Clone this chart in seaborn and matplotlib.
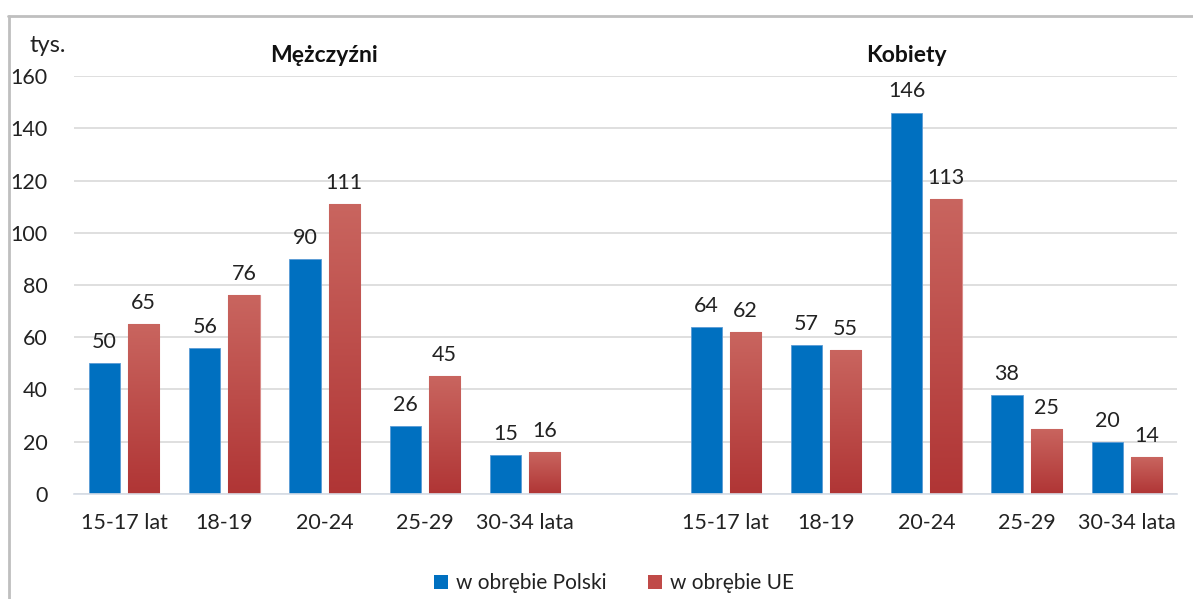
import matplotlib
matplotlib.use("Agg")
import matplotlib.pyplot as plt
import matplotlib.patches as mpatches
import matplotlib.colors as mcolors
import numpy as np
import pandas as pd
import seaborn as sns

# ---- data ----
age_groups = ["15-17 lat", "18-19", "20-24", "25-29", "30-34 lata"]
men_poland = [50, 56, 90, 26, 15]
men_eu = [65, 76, 111, 45, 16]
women_poland = [64, 57, 146, 38, 20]
women_eu = [62, 55, 113, 25, 14]
series_names = ["w obrębie Polski", "w obrębie UE"]
group_titles = ["Mężczyźni", "Kobiety"]
y_ticks = [0, 20, 40, 60, 80, 100, 120, 140, 160]

sns.set_theme(style="white")
plt.rcParams["font.family"] = ["Lato", "DejaVu Sans"]

rows = []
for g, (pl, eu) in zip(["M", "K"], [(men_poland, men_eu), (women_poland, women_eu)]):
    for a, vp, ve in zip(age_groups, pl, eu):
        rows.append({"key": f"{g}|{a}", "series": series_names[0], "value": vp})
        rows.append({"key": f"{g}|{a}", "series": series_names[1], "value": ve})
df = pd.DataFrame(rows)
order = [f"M|{a}" for a in age_groups] + ["gap"] + [f"K|{a}" for a in age_groups]
tick_labels = [k.split("|")[1] if "|" in k else "" for k in order]

BLUE = "#0070C0"
RED_TOP = "#C9655F"
RED_BOT = "#B03535"
RED_EDGE = "#D98C8A"
FS = 15.5

fig = plt.figure(figsize=(11.93, 5.99), dpi=100)
ax = fig.add_axes([0.062, 0.1753, 0.9246, 0.6978])

sns.barplot(data=df, x="key", y="value", hue="series", order=order,
            hue_order=series_names, palette=[BLUE, RED_BOT],
            width=0.78, gap=0.2, ax=ax, legend=False, errorbar=None,
            saturation=1)

ax.set_ylim(0, 160)
ax.set_xlim(-0.5, len(order) - 0.5)
ax.set_yticks(y_ticks)
ax.set_xticks(range(len(order)))
ax.set_xticklabels(tick_labels)
ax.set_xlabel("")
ax.set_ylabel("")
ax.tick_params(axis="both", length=0, labelsize=FS, colors="#222222")
ax.tick_params(axis="x", pad=14)
ax.tick_params(axis="y", pad=19)
ax.yaxis.grid(True, color="#D9D9D9", linewidth=1.2)
ax.set_axisbelow(True)
for s in ["left", "right", "top"]:
    ax.spines[s].set_visible(False)
ax.spines["bottom"].set_color("#D6DCE5")
ax.spines["bottom"].set_linewidth(1.2)

# blue bars: thin lighter edge
for p in ax.containers[0].patches:
    p.set_edgecolor("#5B9BD5")
    p.set_linewidth(0.6)

# red gradient bars
cmap = mcolors.LinearSegmentedColormap.from_list("redgrad", [RED_BOT, RED_TOP])
grad = np.linspace(0, 1, 256).reshape(-1, 1)
for p in ax.containers[1].patches:
    x0, y0 = p.get_x(), p.get_y()
    w, h = p.get_width(), p.get_height()
    if not np.isfinite(h) or h == 0:
        continue
    p.set_edgecolor(RED_EDGE)
    p.set_linewidth(0.8)
    im = ax.imshow(grad, cmap=cmap, aspect="auto", origin="lower",
                   extent=(x0, x0 + w, y0, y0 + h), zorder=p.get_zorder() + 0.1,
                   interpolation="bilinear")
    im.set_clip_path(p)
ax.set_xlim(-0.5, len(order) - 0.5)
ax.set_ylim(0, 160)
ax.set_aspect("auto")

for c in ax.containers:
    ax.bar_label(c, fmt="%g", padding=8, fontsize=FS, color="#222222")

# group titles
fig.text(324 / 1193, 1 - 56 / 599, group_titles[0], ha="center", va="center",
         fontsize=16.5, fontweight="bold", color="#111111")
fig.text(906 / 1193, 1 - 56 / 599, group_titles[1], ha="center", va="center",
         fontsize=16.5, fontweight="bold", color="#111111")
fig.text(48 / 1193, 1 - 45 / 599, "tys.", ha="center", va="center",
         fontsize=17, color="#222222")

handles = [mpatches.Patch(facecolor=BLUE, edgecolor="none"),
           mpatches.Patch(facecolor="#C04A48", edgecolor="none")]
fig.legend(handles, series_names, loc="center", bbox_to_anchor=(0.515, 1 - 583 / 599),
           ncol=2, frameon=False, fontsize=15, handlelength=0.65, handleheight=0.65,
           handletextpad=0.4, columnspacing=2.0, labelcolor="#222222")

# outer frame (top and left visible)
fig.add_artist(plt.Line2D([8 / 1193, 1.0], [1 - 15.5 / 599, 1 - 15.5 / 599],
                          transform=fig.transFigure, color="#BFBFBF", linewidth=2))
fig.add_artist(plt.Line2D([8.5 / 1193, 8.5 / 1193], [0, 1 - 15.5 / 599],
                          transform=fig.transFigure, color="#BFBFBF", linewidth=2))

fig.savefig("out.png", dpi=100, facecolor="white")
